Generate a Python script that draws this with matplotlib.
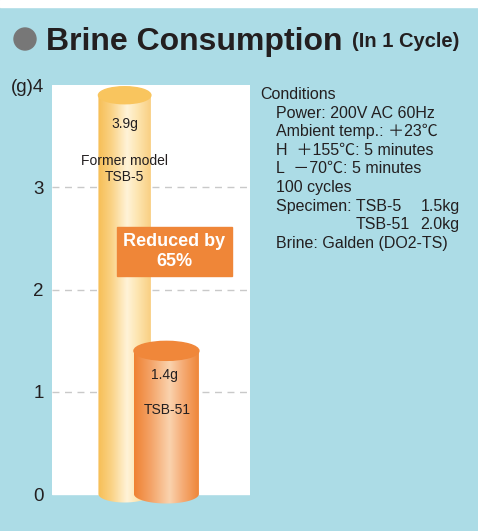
import matplotlib.pyplot as plt
import numpy as np
from matplotlib.patches import Ellipse, Rectangle, PathPatch
from matplotlib.path import Path
from matplotlib.colors import LinearSegmentedColormap

# data
models = ["TSB-5", "TSB-51"]
consumption = [3.9, 1.4]
value_labels = ["3.9g", "1.4g"]
model_labels = ["Former model\nTSB-5", "TSB-51"]
yticks = [0, 1, 2, 3, 4]
ytick_labels = ["0", "1", "2", "3", "(g)4"]
reduction_text = "Reduced by\n65%"
conditions = ["Conditions",
              "Power: 200V AC 60Hz",
              "Ambient temp.: ＋23℃",
              "H  ＋155℃: 5 minutes",
              "L  －70℃: 5 minutes",
              "100 cycles",
              "Specimen: TSB-5",
              "",
              "Brine: Galden (DO2-TS)"]
specimen_rows = [("TSB-5", "1.5kg"), ("TSB-51", "2.0kg")]

W, H = 478, 531
blue = "#ACDCE6"
dark = "#231F20"
fonts = ["Liberation Sans", "Noto Sans CJK JP", "DejaVu Sans"]
plt.rcParams["font.family"] = fonts


def px(x, y):
    return x / W, 1 - y / H


fig = plt.figure(figsize=(W / 100, H / 100), dpi=100)
fig.patch.set_facecolor(blue)
fig.add_artist(Rectangle((0, 1 - 7 / H), 1, 7 / H, transform=fig.transFigure,
                         color="white", zorder=0))

# title
fig.add_artist(Ellipse(px(25, 39), 22 / W, 22 / H, transform=fig.transFigure,
                       color="#777777"))
fig.text(*px(46, 50), "Brine Consumption", fontsize=23, fontweight="bold",
         color=dark, va="baseline", ha="left")
fig.text(*px(352, 47), "(In 1 Cycle)", fontsize=14.5, fontweight="bold",
         color=dark, va="baseline", ha="left")

# axes: 0 at y=494px, 4 at y=85px
ppu = (494 - 85) / 4.0
ylow = -0.2
bot = 494 - ylow * ppu
ax = fig.add_axes([52 / W, (H - bot) / H, 198 / W, (bot - 85) / H])
ax.set_facecolor("none")
for s in ax.spines.values():
    s.set_visible(False)
ax.add_patch(Rectangle((0, 0), 1, 4, color="white", zorder=0))
for y in yticks[1:-1]:
    ax.plot([0, 1], [y, y], color="#C9C9C9", lw=1, dashes=(5, 4), zorder=1)

centers = [0.367, 0.578]
widths = [0.265, 0.328]
ell_px = [17, 19]
grads = [["#F7BE55", "#FAD284", "#FFF3D8", "#FDE5B0", "#F9CF82"],
         ["#EF8232", "#F4A266", "#FAD3AE", "#F5AC76", "#EF8638"]]
tops = ["#F9C55E", "#F0873A"]

for i, v in enumerate(consumption):
    c, w = centers[i], widths[i]
    eh = ell_px[i] / ppu
    x0, x1 = c - w / 2, c + w / 2
    cmap = LinearSegmentedColormap.from_list("g%d" % i,
                                             list(zip([0, 0.25, 0.55, 0.75, 1], grads[i])))
    grad = np.linspace(0, 1, 256)[None, :]
    im = ax.imshow(grad, cmap=cmap, extent=[x0, x1, -eh, v], aspect="auto",
                   origin="lower", zorder=2 + i, interpolation="bilinear")
    t = np.linspace(np.pi, 2 * np.pi, 60)
    verts = [(x0, v)] + list(zip(c + w / 2 * np.cos(t), eh / 2 * np.sin(t))) + [(x1, v), (x0, v)]
    clip = PathPatch(Path(verts), transform=ax.transData, fc="none", ec="none")
    im.set_clip_path(clip)
    ax.add_patch(Ellipse((c, v), w, eh, color=tops[i], zorder=2 + i))

ax.text(centers[0], (494 - 124) / ppu, value_labels[0], ha="center", va="center",
        fontsize=10, color=dark, zorder=6)
ax.text(centers[0], (494 - 169) / ppu, model_labels[0], ha="center", va="center",
        fontsize=10, color=dark, zorder=6, linespacing=1.25)
ax.text(0.57, (494 - 375) / ppu, value_labels[1], ha="center", va="center",
        fontsize=10, color=dark, zorder=6)
ax.text(0.58, (494 - 410) / ppu, model_labels[1], ha="center", va="center",
        fontsize=10, color=dark, zorder=6)

# reduction box
bx0, bx1 = (117 - 52) / 198, (232 - 52) / 198
by0, by1 = (494 - 276) / ppu, (494 - 227) / ppu
ax.add_patch(Rectangle((bx0, by0), bx1 - bx0, by1 - by0, color="#EF8638", zorder=5))
ax.text((bx0 + bx1) / 2, (by0 + by1) / 2, reduction_text, ha="center", va="center",
        fontsize=13, fontweight="bold", color="white", zorder=6, linespacing=1.25)

ax.set_xlim(0, 1)
ax.set_ylim(ylow, 4)
ax.set_xticks([])
ax.set_yticks(yticks)
ax.set_yticklabels(ytick_labels, fontsize=13.5, color=dark)
ax.tick_params(axis="y", length=0, pad=6)

# conditions
ys = [99, 117.5, 136, 154.5, 173, 191.7, 210.5, 229.2, 247.8]
for k, line in enumerate(conditions):
    if line:
        x = 260 if k == 0 else 276
        fig.text(*px(x, ys[k]), line, fontsize=11.5, color=dark, va="baseline")
fig.text(*px(421, ys[6]), specimen_rows[0][1], fontsize=11.5, color=dark, va="baseline")
fig.text(*px(356, ys[7]), specimen_rows[1][0], fontsize=11.5, color=dark, va="baseline")
fig.text(*px(420, ys[7]), specimen_rows[1][1], fontsize=11.5, color=dark, va="baseline")

fig.savefig("out.png", dpi=100, facecolor=blue)
